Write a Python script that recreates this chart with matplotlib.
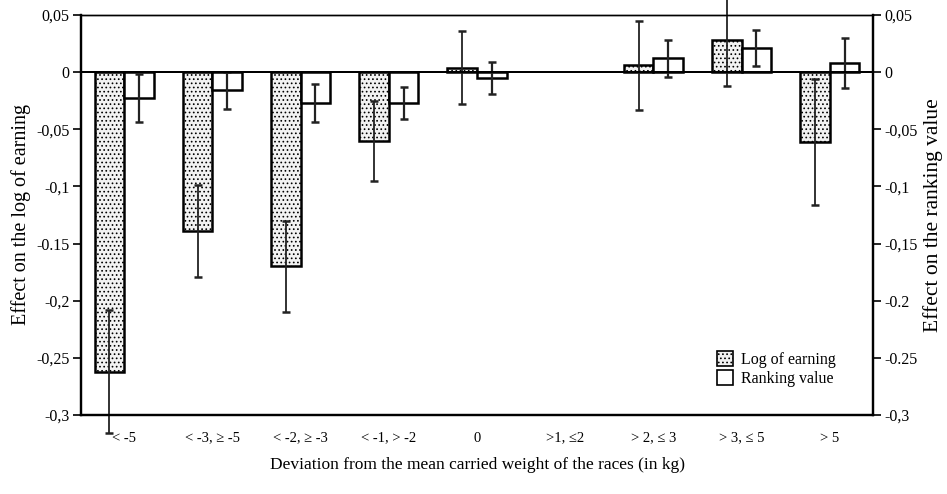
import matplotlib
import matplotlib.pyplot as plt
import numpy as np
from matplotlib.patches import Patch

matplotlib.use('Agg')

plt.rcParams['font.family'] = ['Liberation Serif', 'DejaVu Serif']
plt.rcParams['hatch.color'] = '#666666'
plt.rcParams['hatch.linewidth'] = 0.7

categories = ['< -5', '< -3, \u2265 -5', '< -2, \u2265 -3', '< -1, > -2', '0',
              '>1, \u22642', '> 2, \u2264 3', '> 3, \u2264 5', '> 5']

# effect on the log of earning (left axis), nan = no estimate
log_earning = np.array([-0.262, -0.139, -0.170, -0.060, 0.004,
                        np.nan, 0.006, 0.028, -0.061])
log_err = np.array([0.054, 0.040, 0.040, 0.035, 0.032,
                    np.nan, 0.039, 0.040, 0.055])

# effect on the ranking value (right axis)
ranking = np.array([-0.023, -0.016, -0.027, -0.027, -0.005,
                    np.nan, 0.012, 0.021, 0.008])
ranking_err = np.array([0.021, 0.016, 0.017, 0.014, 0.014,
                        np.nan, 0.016, 0.016, 0.022])

yticks = [0.05, 0, -0.05, -0.1, -0.15, -0.2, -0.25, -0.3]
left_labels = ['0,05', '0', '-0,05', '-0,1', '-0.15', '-0,2', '-0,25', '-0,3']
right_labels = ['0,05', '0', '-0,05', '-0,1', '-0,15', '-0.2', '-0.25', '-0,3']

x = np.arange(len(categories))
w = 0.335

fig = plt.figure(figsize=(9.47, 4.94), dpi=100)
ax = fig.add_axes([0.0855, 0.16, 0.8364, 0.8096])
ax2 = ax.twinx()

ok = np.isfinite(log_earning)
ax.bar(x[ok] - w / 2, log_earning[ok], w, facecolor='#f2f2f2',
       edgecolor='black', linewidth=1.8, hatch='....', zorder=2)
ax.errorbar(x[ok] - w / 2, log_earning[ok], yerr=log_err[ok], fmt='none',
            ecolor='#222222', elinewidth=1.3, capsize=3, capthick=1.8,
            zorder=3, clip_on=False)

ok = np.isfinite(ranking)
ax2.bar(x[ok] + w / 2, ranking[ok], w, facecolor='white',
        edgecolor='black', linewidth=1.8, zorder=2)
ax2.errorbar(x[ok] + w / 2, ranking[ok], yerr=ranking_err[ok], fmt='none',
             ecolor='#222222', elinewidth=1.6, capsize=3, capthick=1.8,
             zorder=3, clip_on=False)

for a in (ax, ax2):
    a.set_ylim(-0.3, 0.05)
    a.set_xlim(-0.49, 8.49)
    a.axhline(0, color='black', linewidth=1.4, zorder=4)
    for s in a.spines.values():
        s.set_linewidth(1.6)
ax.spines['top'].set_linewidth(1.0)
ax2.spines['top'].set_linewidth(1.0)

ax.set_yticks(yticks)
ax.set_yticklabels(left_labels)
ax2.set_yticks(yticks)
ax2.set_yticklabels(right_labels)
ax.tick_params(axis='y', direction='out', length=6, width=1.2, pad=2,
               labelsize=11.5)
ax2.tick_params(axis='y', direction='out', length=6, width=1.2, pad=2,
                labelsize=11.5)

ax.set_xticks(x)
ax.set_xticklabels(categories)
ax.tick_params(axis='x', length=0, pad=12, labelsize=10.5)

ax.set_ylabel('Effect on the log of earning', fontsize=14.5, labelpad=4)
ax2.set_ylabel('Effect on the ranking value', fontsize=15.5, labelpad=4)
ax.set_xlabel('Deviation from the mean carried weight of the races (in kg)',
              fontsize=12.5, labelpad=9)

handles = [
    Patch(facecolor='#f2f2f2', edgecolor='black', hatch='....',
          linewidth=1.2, label='Log of earning'),
    Patch(facecolor='white', edgecolor='black', linewidth=1.2,
          label='Ranking value'),
]
ax2.legend(handles=handles, loc='upper left', bbox_to_anchor=(0.785, 0.195),
           frameon=False, fontsize=11.5, handlelength=1.0, handleheight=1.0,
           handletextpad=0.5, labelspacing=0.15)

fig.savefig('out.png', dpi=100)
plt.close(fig)
